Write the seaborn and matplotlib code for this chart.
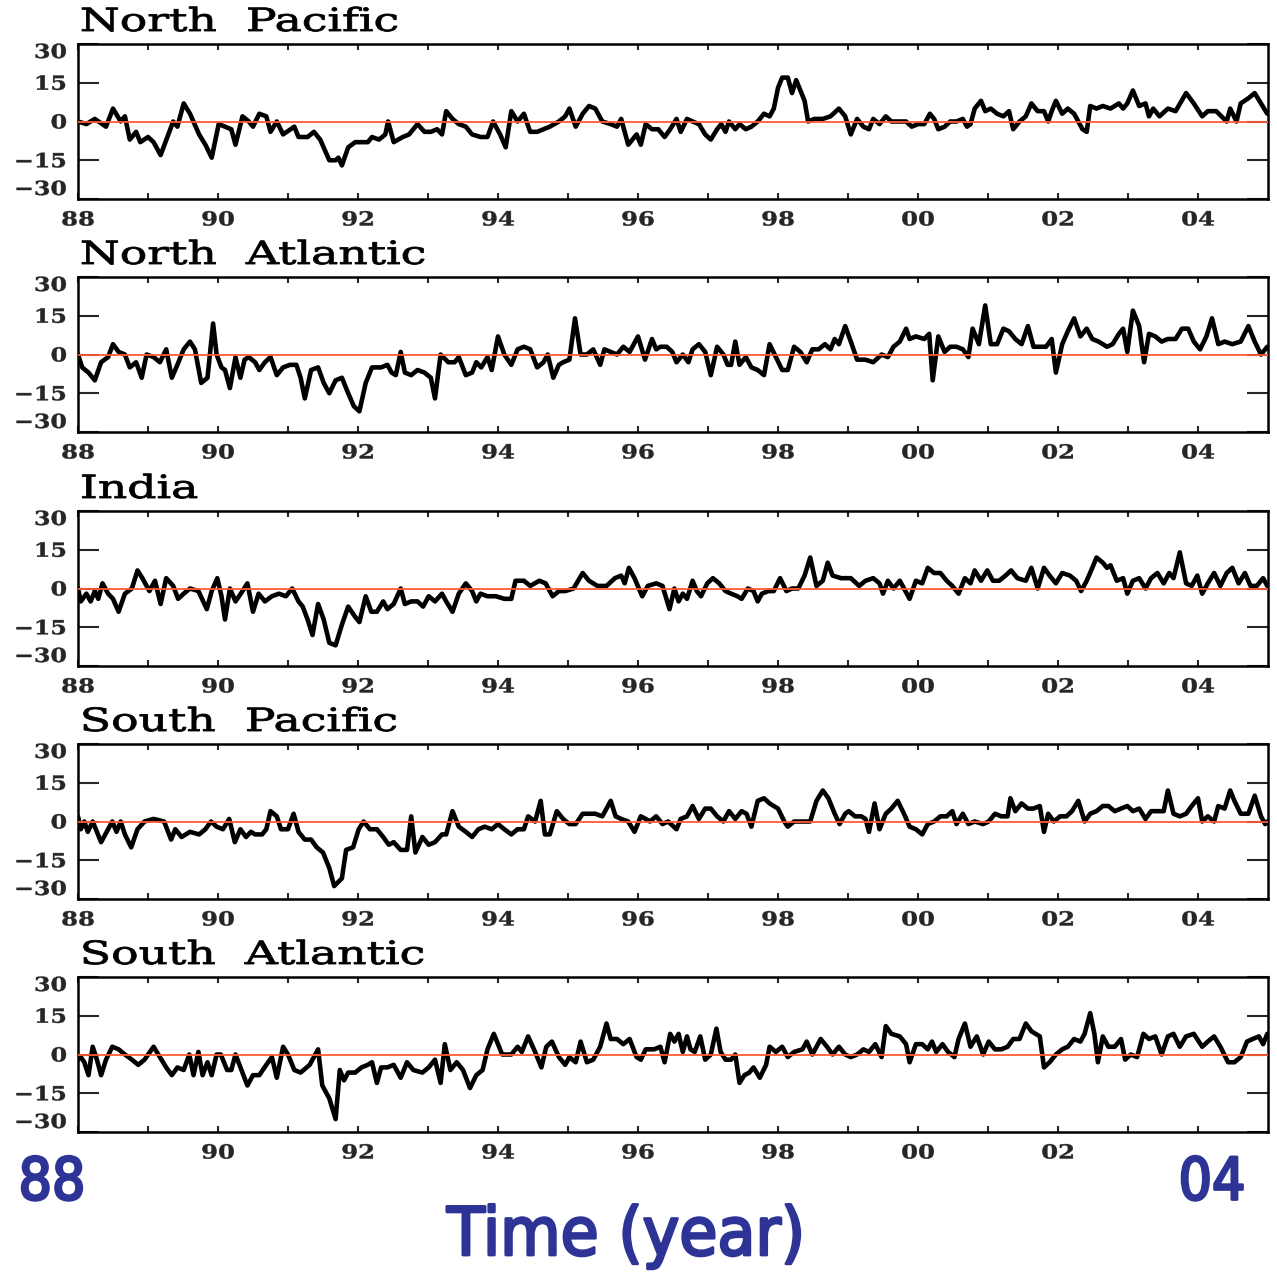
import numpy as np
import pandas as pd
import matplotlib
matplotlib.use("Agg")
import matplotlib.pyplot as plt
from matplotlib.patheffects import AbstractPathEffect
from matplotlib.transforms import Affine2D
import seaborn as sns

# ---------------- data (time in years since 1900, value) ----------------
REGIONS = ["North Pacific", "North Atlantic", "India", "South Pacific", "South Atlantic"]

NORTH_PACIFIC = [
    (88.00, 0), (88.12, -1), (88.24, 1), (88.40, -2), (88.50, 5), (88.61, 0), (88.67, 2), (88.74, -7),
    (88.83, -4), (88.89, -8), (89.00, -6), (89.08, -8), (89.18, -13), (89.29, -5), (89.36, 0), (89.42, -2),
    (89.51, 7), (89.60, 3), (89.73, -5), (89.82, -9), (89.91, -14), (90.01, -1), (90.10, -2), (90.19, -3),
    (90.25, -9), (90.35, 2), (90.44, 0), (90.50, -2), (90.59, 3), (90.69, 2), (90.75, -4), (90.84, 0),
    (90.93, -5), (91.09, -2), (91.15, -6), (91.28, -6), (91.37, -4), (91.46, -7), (91.59, -15), (91.68, -15),
    (91.72, -14), (91.77, -17), (91.86, -10), (91.96, -8), (92.08, -8), (92.14, -8), (92.20, -6), (92.30, -7),
    (92.39, -5), (92.43, 0), (92.51, -8), (92.64, -6), (92.73, -5), (92.85, -1), (92.95, -4), (93.04, -4),
    (93.13, -3), (93.20, -5), (93.26, 4), (93.35, 1), (93.44, -1), (93.54, -2), (93.63, -5), (93.75, -6),
    (93.85, -6), (93.93, 0), (94.03, -5), (94.11, -10), (94.19, 4), (94.28, 0), (94.37, 3), (94.46, -4),
    (94.56, -4), (94.65, -3), (94.74, -2), (94.87, 0), (94.96, 2), (95.02, 5), (95.11, -2), (95.21, 3),
    (95.30, 6), (95.39, 5), (95.49, 0), (95.61, -1), (95.70, -2), (95.76, 1), (95.86, -9), (95.98, -5),
    (96.04, -9), (96.11, -1), (96.20, -3), (96.29, -3), (96.38, -6), (96.46, -3), (96.55, 1), (96.61, -4),
    (96.70, 1), (96.78, 0), (96.87, -1), (96.96, -5), (97.04, -7), (97.13, -3), (97.19, -1), (97.25, -4),
    (97.30, 0), (97.39, -3), (97.45, -1), (97.54, -3), (97.62, -2), (97.71, 0), (97.80, 3), (97.88, 2),
    (97.94, 5), (98.00, 13), (98.06, 17), (98.14, 17), (98.20, 11), (98.26, 16), (98.32, 12), (98.38, 8),
    (98.43, 0), (98.52, 1), (98.64, 1), (98.75, 2), (98.87, 5), (98.96, 2), (99.04, -5), (99.13, 1),
    (99.22, -2), (99.30, -3), (99.36, 1), (99.45, -1), (99.54, 2), (99.62, 0), (99.74, 0), (99.83, 0),
    (99.91, -2), (100.00, -1), (100.09, -1), (100.17, 3), (100.23, 1), (100.29, -3), (100.38, -2), (100.46, 0),
    (100.55, 0), (100.64, 1), (100.70, -2), (100.75, -1), (100.81, 5), (100.90, 8), (100.96, 4), (101.04, 5),
    (101.13, 3), (101.22, 2), (101.30, 4), (101.36, -3), (101.45, 0), (101.54, 2), (101.62, 7), (101.71, 4),
    (101.80, 4), (101.86, 0), (101.91, 4), (101.97, 8), (102.06, 3), (102.14, 5), (102.23, 3), (102.29, 0),
    (102.35, -3), (102.41, -4), (102.46, 6), (102.55, 5), (102.64, 6), (102.75, 5), (102.87, 7), (102.93, 5),
    (102.99, 7), (103.07, 12), (103.16, 6), (103.25, 7), (103.30, 2), (103.36, 5), (103.45, 2), (103.57, 5),
    (103.68, 4), (103.83, 11), (103.94, 7), (104.06, 2), (104.14, 4), (104.26, 4), (104.41, 0), (104.46, 5),
    (104.55, 0), (104.61, 7), (104.72, 9), (104.81, 11), (104.90, 7), (104.99, 3),
]

NORTH_ATLANTIC = [
    (88.00, 0), (88.06, -5), (88.15, -7), (88.24, -10), (88.33, -3), (88.43, -1), (88.50, 4), (88.58, 1),
    (88.67, 0), (88.74, -5), (88.83, -3), (88.91, -9), (88.98, 0), (89.08, -1), (89.17, -3), (89.26, 2),
    (89.34, -9), (89.42, -4), (89.51, 2), (89.60, 5), (89.67, 2), (89.76, -11), (89.85, -9), (89.93, 12),
    (89.98, 0), (90.05, -5), (90.10, -6), (90.17, -13), (90.25, -1), (90.32, -9), (90.38, -2), (90.44, -1),
    (90.53, -3), (90.59, -6), (90.67, -3), (90.75, -1), (90.84, -8), (90.93, -5), (91.03, -4), (91.12, -4),
    (91.18, -9), (91.24, -17), (91.33, -6), (91.43, -5), (91.51, -11), (91.59, -15), (91.68, -10), (91.77, -9),
    (91.86, -15), (91.94, -20), (92.02, -22), (92.11, -11), (92.20, -5), (92.33, -5), (92.42, -4), (92.48, -7),
    (92.54, -8), (92.61, 1), (92.67, -7), (92.76, -8), (92.85, -6), (92.95, -7), (93.04, -9), (93.10, -17),
    (93.18, 0), (93.29, -3), (93.38, -3), (93.44, -1), (93.54, -8), (93.63, -7), (93.69, -3), (93.76, -5),
    (93.85, -1), (93.91, -6), (94.00, 7), (94.09, 0), (94.19, -4), (94.28, 2), (94.37, 3), (94.46, 2),
    (94.56, -5), (94.65, -3), (94.71, 0), (94.79, -9), (94.87, -4), (94.93, -3), (95.02, -2), (95.10, 14),
    (95.18, 0), (95.27, 0), (95.36, 2), (95.46, -4), (95.52, 2), (95.61, 1), (95.70, 0), (95.79, 3),
    (95.88, 1), (96.00, 7), (96.10, -2), (96.20, 6), (96.26, 2), (96.32, 3), (96.41, 3), (96.49, 1),
    (96.55, -3), (96.64, 0), (96.72, -3), (96.78, 2), (96.87, 4), (96.96, 1), (97.04, -8), (97.13, 3),
    (97.22, 0), (97.28, -4), (97.33, -4), (97.39, 5), (97.45, -4), (97.54, -1), (97.62, -5), (97.71, -6),
    (97.80, -8), (97.88, 4), (97.97, -1), (98.06, -6), (98.14, -6), (98.23, 3), (98.32, 1), (98.41, -3),
    (98.49, 2), (98.58, 2), (98.67, 4), (98.75, 2), (98.81, 6), (98.87, 4), (98.96, 11), (99.04, 5),
    (99.13, -2), (99.25, -2), (99.36, -3), (99.48, 0), (99.57, -1), (99.65, 3), (99.74, 5), (99.83, 10),
    (99.88, 6), (99.97, 7), (100.09, 6), (100.16, 8), (100.21, -10), (100.29, 7), (100.38, 1), (100.46, 3),
    (100.55, 3), (100.64, 2), (100.72, -1), (100.78, 10), (100.87, 4), (100.96, 19), (101.04, 4), (101.13, 4),
    (101.22, 10), (101.30, 9), (101.39, 6), (101.48, 4), (101.57, 11), (101.65, 3), (101.74, 3), (101.83, 3),
    (101.91, 6), (101.97, -7), (102.06, 4), (102.14, 9), (102.23, 14), (102.32, 7), (102.41, 10), (102.49, 6),
    (102.58, 5), (102.70, 3), (102.78, 4), (102.87, 8), (102.93, 10), (102.99, 1), (103.07, 17), (103.16, 11),
    (103.23, -3), (103.30, 8), (103.39, 7), (103.48, 5), (103.57, 6), (103.68, 6), (103.77, 10), (103.86, 10),
    (103.94, 5), (104.03, 2), (104.12, 7), (104.20, 14), (104.29, 4), (104.38, 5), (104.49, 4), (104.61, 5),
    (104.72, 11), (104.81, 5), (104.90, 0), (104.99, 3),
]

INDIA = [
    (88.00, 0), (88.04, -5), (88.12, -2), (88.18, -5), (88.24, -1), (88.29, -4), (88.35, 2), (88.43, -2),
    (88.50, -4), (88.58, -9), (88.67, -2), (88.77, 0), (88.85, 7), (88.92, 4), (89.02, -1), (89.10, 3),
    (89.18, -6), (89.26, 4), (89.36, 1), (89.43, -4), (89.51, -2), (89.60, 0), (89.72, -1), (89.84, -8),
    (89.91, -1), (89.99, 4), (90.05, -3), (90.10, -12), (90.17, 0), (90.25, -5), (90.35, -1), (90.42, 2),
    (90.50, -9), (90.58, -2), (90.67, -5), (90.77, -3), (90.87, -2), (90.97, -3), (91.06, 0), (91.15, -5),
    (91.21, -7), (91.28, -12), (91.35, -18), (91.43, -6), (91.51, -12), (91.59, -21), (91.68, -22), (91.77, -14),
    (91.86, -7), (91.96, -11), (92.02, -13), (92.11, -3), (92.19, -9), (92.27, -9), (92.36, -5), (92.42, -8),
    (92.51, -6), (92.61, 0), (92.67, -6), (92.76, -5), (92.85, -5), (92.93, -7), (93.01, -3), (93.10, -5),
    (93.20, -2), (93.26, -5), (93.35, -9), (93.44, -2), (93.54, 2), (93.63, -1), (93.69, -5), (93.75, -2),
    (93.85, -3), (93.97, -3), (94.09, -4), (94.19, -4), (94.25, 3), (94.37, 3), (94.46, 1), (94.59, 3),
    (94.68, 2), (94.78, -3), (94.87, -1), (94.96, -1), (95.08, 0), (95.21, 6), (95.30, 3), (95.42, 1),
    (95.55, 1), (95.67, 4), (95.76, 5), (95.81, 2), (95.87, 8), (95.95, 4), (96.06, -3), (96.14, 1),
    (96.26, 2), (96.35, 1), (96.45, -8), (96.52, 0), (96.58, -5), (96.64, -2), (96.70, -4), (96.78, 3),
    (96.84, -1), (96.90, -3), (96.99, 2), (97.07, 4), (97.16, 2), (97.25, -1), (97.33, -2), (97.42, -3),
    (97.48, -4), (97.57, 0), (97.65, -1), (97.71, -5), (97.77, -2), (97.86, -1), (97.94, -1), (98.03, 4),
    (98.12, -1), (98.20, 0), (98.29, 0), (98.38, 5), (98.46, 12), (98.55, 1), (98.64, 3), (98.71, 10),
    (98.78, 5), (98.90, 4), (99.04, 4), (99.16, 1), (99.25, 3), (99.36, 4), (99.45, 2), (99.50, -2),
    (99.57, 3), (99.65, 0), (99.74, 3), (99.80, 0), (99.88, -4), (99.97, 3), (100.06, 2), (100.14, 8),
    (100.23, 6), (100.32, 6), (100.41, 3), (100.49, 1), (100.58, -2), (100.67, 4), (100.75, 2), (100.81, 7),
    (100.90, 3), (100.99, 7), (101.07, 3), (101.16, 3), (101.25, 5), (101.33, 7), (101.42, 4), (101.54, 3),
    (101.62, 8), (101.71, 0), (101.80, 8), (101.88, 5), (101.97, 2), (102.06, 6), (102.17, 5), (102.26, 3),
    (102.33, -1), (102.41, 3), (102.49, 8), (102.55, 12), (102.64, 10), (102.70, 8), (102.75, 9), (102.84, 3),
    (102.93, 4), (102.99, -2), (103.07, 3), (103.16, 4), (103.25, 0), (103.33, 4), (103.42, 6), (103.51, 2),
    (103.59, 6), (103.65, 4), (103.74, 14), (103.83, 2), (103.91, 1), (103.99, 5), (104.06, -2), (104.14, 2),
    (104.23, 6), (104.32, 1), (104.41, 6), (104.49, 8), (104.58, 2), (104.67, 6), (104.75, 1), (104.84, 1),
    (104.93, 4), (104.99, 1),
]

SOUTH_PACIFIC = [
    (88.00, 2), (88.04, -3), (88.09, 0), (88.14, -4), (88.21, 0), (88.33, -8), (88.49, 0), (88.55, -4),
    (88.61, 0), (88.67, -5), (88.76, -10), (88.85, -3), (88.95, 0), (89.08, 1), (89.23, 0), (89.33, -7),
    (89.39, -3), (89.48, -6), (89.60, -4), (89.73, -5), (89.82, -3), (89.90, 0), (89.98, -2), (90.07, -3),
    (90.16, 1), (90.24, -8), (90.32, -3), (90.40, -6), (90.47, -4), (90.53, -5), (90.63, -5), (90.69, -3),
    (90.75, 4), (90.84, 2), (90.90, -3), (91.00, -3), (91.08, 3), (91.15, -4), (91.24, -7), (91.33, -7),
    (91.41, -10), (91.50, -12), (91.59, -18), (91.66, -25), (91.77, -22), (91.83, -11), (91.93, -10), (92.01, -3),
    (92.08, 0), (92.17, -3), (92.27, -3), (92.36, -6), (92.44, -9), (92.51, -8), (92.61, -11), (92.70, -11),
    (92.76, 2), (92.82, -12), (92.92, -6), (93.01, -9), (93.10, -8), (93.20, -5), (93.26, -5), (93.35, 4),
    (93.44, -2), (93.54, -4), (93.63, -6), (93.72, -3), (93.81, -2), (93.91, -3), (94.00, -1), (94.09, -3),
    (94.19, -5), (94.28, -3), (94.37, -3), (94.43, 2), (94.53, 0), (94.61, 8), (94.67, -5), (94.74, -5),
    (94.84, 4), (94.93, 1), (95.02, -1), (95.11, -1), (95.21, 3), (95.30, 3), (95.39, 3), (95.49, 2),
    (95.61, 8), (95.68, 2), (95.76, 1), (95.86, 0), (95.95, -4), (96.04, 2), (96.11, 1), (96.17, 0),
    (96.26, 2), (96.35, -1), (96.43, 0), (96.55, -3), (96.61, 1), (96.70, 2), (96.78, 6), (96.87, 1),
    (96.96, 5), (97.04, 5), (97.13, 2), (97.22, 0), (97.30, 4), (97.39, 1), (97.48, 4), (97.55, 3),
    (97.62, -2), (97.71, 8), (97.80, 9), (97.88, 7), (98.00, 5), (98.09, 0), (98.14, -2), (98.23, 0),
    (98.35, 0), (98.46, 0), (98.55, 8), (98.64, 12), (98.72, 9), (98.81, 3), (98.88, -1), (98.96, 3),
    (99.01, 4), (99.10, 2), (99.19, 2), (99.25, 1), (99.30, -4), (99.38, 7), (99.45, -3), (99.54, 3),
    (99.62, 5), (99.71, 8), (99.80, 3), (99.88, -2), (99.97, -3), (100.06, -5), (100.14, -1), (100.23, 0),
    (100.32, 2), (100.41, 2), (100.49, 4), (100.55, -1), (100.64, 3), (100.72, -1), (100.81, 0), (100.93, -1),
    (101.01, 0), (101.10, 3), (101.19, 2), (101.28, 2), (101.32, 9), (101.39, 4), (101.48, 7), (101.57, 5),
    (101.65, 5), (101.74, 6), (101.80, -4), (101.86, 3), (101.94, 0), (102.03, 2), (102.12, 2), (102.20, 4),
    (102.29, 8), (102.38, 0), (102.46, 3), (102.55, 4), (102.64, 6), (102.72, 6), (102.81, 4), (102.90, 5),
    (102.99, 6), (103.07, 4), (103.16, 5), (103.25, 1), (103.33, 4), (103.42, 4), (103.51, 4), (103.57, 12),
    (103.65, 3), (103.74, 2), (103.83, 3), (103.91, 6), (104.00, 9), (104.06, 0), (104.14, 2), (104.23, 0),
    (104.29, 6), (104.38, 5), (104.46, 12), (104.52, 8), (104.61, 3), (104.72, 3), (104.81, 10), (104.90, 2),
    (104.96, -1), (104.99, 0),
]

SOUTH_ATLANTIC = [
    (88.00, -2), (88.04, -1), (88.09, -3), (88.15, -8), (88.21, 3), (88.27, -2), (88.33, -8), (88.40, -2),
    (88.49, 3), (88.58, 2), (88.67, 0), (88.77, -2), (88.86, -4), (88.95, -2), (89.08, 3), (89.17, -1),
    (89.26, -5), (89.34, -8), (89.42, -5), (89.51, -6), (89.59, 0), (89.65, -8), (89.72, 1), (89.78, -8),
    (89.85, -3), (89.91, -8), (89.98, 0), (90.04, 0), (90.13, -6), (90.19, -6), (90.25, 0), (90.35, -7),
    (90.42, -12), (90.50, -8), (90.59, -8), (90.69, -4), (90.77, -1), (90.84, -9), (90.93, 3), (91.00, 0),
    (91.09, -6), (91.18, -7), (91.31, -4), (91.43, 2), (91.49, -12), (91.59, -17), (91.68, -25), (91.74, -6),
    (91.80, -10), (91.86, -7), (91.96, -7), (92.05, -5), (92.14, -4), (92.20, -3), (92.27, -11), (92.33, -5),
    (92.42, -5), (92.51, -4), (92.61, -9), (92.70, -3), (92.79, -6), (92.92, -7), (93.01, -5), (93.10, -2),
    (93.18, -11), (93.24, 4), (93.32, -6), (93.41, -3), (93.50, -6), (93.60, -13), (93.69, -8), (93.78, -6),
    (93.85, 2), (93.94, 8), (94.06, 0), (94.19, 0), (94.28, 3), (94.34, 1), (94.43, 7), (94.53, 1),
    (94.62, -5), (94.69, 3), (94.77, 5), (94.87, -1), (94.96, -4), (95.02, -1), (95.11, -3), (95.18, 5),
    (95.27, -3), (95.36, -2), (95.46, 3), (95.55, 12), (95.61, 6), (95.70, 6), (95.79, 4), (95.88, 6),
    (95.98, -1), (96.04, -2), (96.11, 2), (96.23, 2), (96.32, 3), (96.38, -3), (96.46, 8), (96.52, 5),
    (96.58, 8), (96.64, 1), (96.70, 7), (96.75, 2), (96.81, 1), (96.89, 7), (96.96, -2), (97.04, 0),
    (97.12, 10), (97.18, 1), (97.25, -2), (97.33, -2), (97.39, 0), (97.45, -11), (97.52, -8), (97.59, -7),
    (97.65, -5), (97.74, -9), (97.83, -4), (97.88, 3), (97.97, 1), (98.06, 3), (98.14, -1), (98.23, 1),
    (98.35, 2), (98.41, 5), (98.49, 0), (98.61, 6), (98.70, 3), (98.78, 0), (98.87, 3), (98.96, 0),
    (99.04, -1), (99.13, 0), (99.22, 2), (99.30, 1), (99.39, 4), (99.48, -1), (99.54, 11), (99.62, 8),
    (99.74, 7), (99.83, 4), (99.88, -3), (99.97, 4), (100.06, 4), (100.14, 2), (100.20, 5), (100.26, 1),
    (100.35, 4), (100.43, 1), (100.52, -1), (100.58, 6), (100.67, 12), (100.75, 3), (100.84, 7), (100.93, 0),
    (101.01, 5), (101.10, 2), (101.19, 2), (101.28, 3), (101.36, 6), (101.45, 6), (101.54, 12), (101.62, 9),
    (101.74, 7), (101.80, -5), (101.88, -3), (101.97, 0), (102.06, 2), (102.14, 3), (102.23, 6), (102.32, 5),
    (102.38, 8), (102.46, 16), (102.52, 8), (102.57, -3), (102.64, 7), (102.72, 3), (102.81, 3), (102.90, 6),
    (102.96, -2), (103.04, 0), (103.13, -1), (103.22, 8), (103.30, 6), (103.39, 7), (103.48, 0), (103.57, 7),
    (103.65, 8), (103.74, 3), (103.83, 7), (103.94, 8), (104.06, 3), (104.14, 5), (104.23, 7), (104.32, 3),
    (104.43, -3), (104.52, -3), (104.61, -1), (104.70, 5), (104.78, 6), (104.87, 7), (104.93, 4), (104.99, 8),
]

SERIES = [NORTH_PACIFIC, NORTH_ATLANTIC, INDIA, SOUTH_PACIFIC, SOUTH_ATLANTIC]

XTICK_YEARS = [1988, 1990, 1992, 1994, 1996, 1998, 2000, 2002, 2004]
XTICK_LABELS = ["88", "90", "92", "94", "96", "98", "00", "02", "04"]
YTICKS = [-30, -15, 0, 15, 30]
YTICK_LABELS = ["\u221230", "\u221215", "0", "15", "30"]
XLABEL = "Time (year)"
CORNER_LEFT = "88"
CORNER_RIGHT = "04"


# ---------------- helper: horizontally widened glyphs (text stays text) ----------------
class Stretch(AbstractPathEffect):
    def __init__(self, sx, anchor="left", lw=0.0):
        super().__init__()
        self.sx, self.anchor, self.lw = sx, anchor, lw

    def draw_path(self, renderer, gc, tpath, affine, rgbFace=None):
        ext = tpath.get_extents()
        if self.anchor == "left":
            x0 = 0.0
        elif self.anchor == "right":
            x0 = ext.x1
        else:
            x0 = 0.5 * (ext.x0 + ext.x1)
        tr = Affine2D().translate(-x0, 0).scale(self.sx, 1.0).translate(x0, 0) + affine
        gc0 = renderer.new_gc()
        gc0.copy_properties(gc)
        gc0.set_linewidth(self.lw)
        renderer.draw_path(gc0, tpath, tr, rgbFace)
        gc0.restore()


# ---------------- style ----------------
sns.set_theme(style="ticks")
plt.rcParams["font.family"] = ["DejaVu Serif"]

W, H = 1277, 1275
fig = plt.figure(figsize=(W / 100, H / 100), dpi=100)
fig.patch.set_facecolor("white")

left_px, right_px = 78, 1268
tops_px = [44, 277, 511, 744, 977]
height_px = 155
BLUE = "#2d3496"

for i, (name, data) in enumerate(zip(REGIONS, SERIES)):
    top = tops_px[i]
    ax = fig.add_axes([left_px / W, 1 - (top + height_px) / H,
                       (right_px - left_px) / W, height_px / H])
    ax.set_facecolor("white")
    df = pd.DataFrame(data, columns=["t", "value"])
    df["year"] = 1900 + df["t"]
    sns.lineplot(data=df, x="year", y="value", ax=ax, color="black",
                 linewidth=3.3, estimator=None, sort=False, zorder=2)
    ax.axhline(0, color="#ff5a36", lw=1.3, zorder=3)

    ax.set_xlim(1988, 2005)
    ax.set_ylim(-30, 30)
    ax.set_xlabel("")
    ax.set_ylabel("")

    if i == len(REGIONS) - 1:
        xl = [lab if lab not in (CORNER_LEFT, CORNER_RIGHT) else "" for lab in XTICK_LABELS]
    else:
        xl = XTICK_LABELS
    ax.set_xticks(XTICK_YEARS, labels=xl)
    ax.set_xticks(np.arange(1988, 2005), minor=True)
    ax.set_yticks(YTICKS, labels=YTICK_LABELS)

    ax.tick_params(axis="x", which="both", direction="in", length=4, width=1.5,
                   top=True, bottom=True, pad=9, labelsize=14)
    ax.tick_params(axis="y", which="major", direction="in", length=15, width=1.5,
                   left=True, right=True, pad=8, labelsize=14)
    for lab in ax.get_xticklabels():
        lab.set_fontweight("bold")
        lab.set_path_effects([Stretch(1.25, "center", 0.3)])
    ylabs = ax.get_yticklabels()
    for lab in ylabs:
        lab.set_fontweight("bold")
        lab.set_path_effects([Stretch(1.22, "right", 0.3)])
    ylabs[0].set_va("bottom")
    ylabs[-1].set_va("top")

    for sp in ax.spines.values():
        sp.set_linewidth(1.8)
        sp.set_color("black")
        sp.set_visible(True)

    ttl = ax.text(0.0015, 1 + 13 / height_px, name.replace(" ", "  "), transform=ax.transAxes,
                  ha="left", va="baseline", fontsize=23, family="DejaVu Serif", color="black")
    ttl.set_path_effects([Stretch(1.43, "left", 0.6)])

# big blue annotations
for txt, xc in ((CORNER_LEFT, 52), (CORNER_RIGHT, 1212)):
    t = fig.text(xc / W, 1 - 1183 / H, txt, ha="center", va="center",
                 fontsize=42, color=BLUE, family="DejaVu Sans")
    t.set_path_effects([Stretch(0.9, "center", 2.0)])
t = fig.text(626 / W, 1 - 1236 / H, XLABEL, ha="center", va="center",
             fontsize=48, color=BLUE, family="DejaVu Sans")
t.set_path_effects([Stretch(0.93, "center", 2.0)])

fig.savefig("out.png", dpi=100, facecolor="white")
